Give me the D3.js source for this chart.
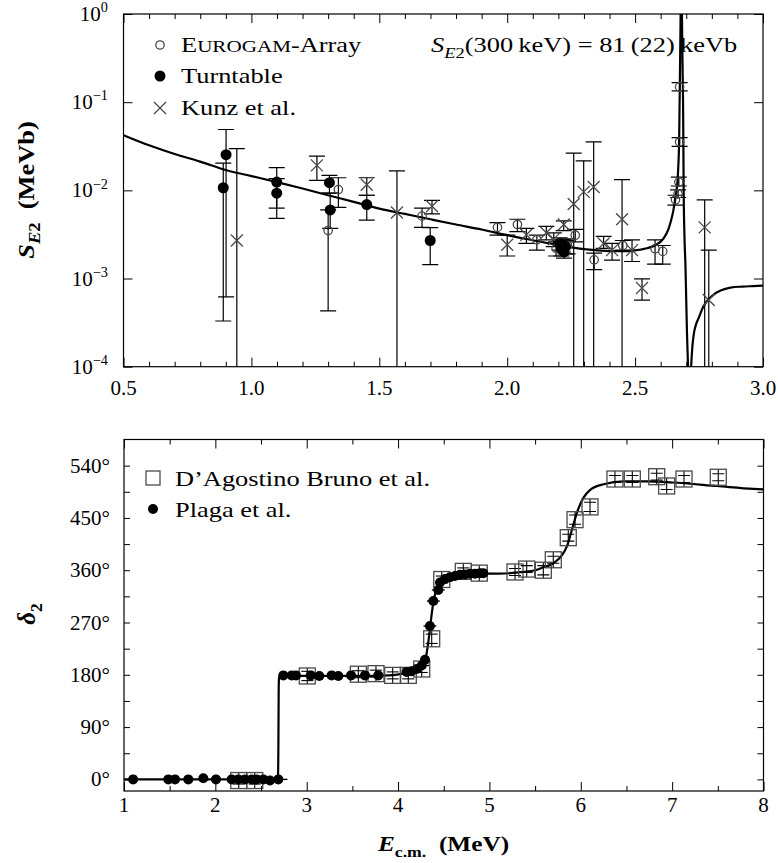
<!DOCTYPE html>
<html>
<head>
<meta charset="utf-8">
<script src="https://cdn.jsdelivr.net/npm/d3@7"></script>
<style>
  body { margin: 0; background: #fff; }
  svg text { font-family: "Liberation Serif", "Times New Roman", serif; fill: #000; }
</style>
</head>
<body>
<svg id="fig" width="778" height="863"></svg>
<script>
// ---------- upper panel: astrophysical S-factor S_E2 (MeV b) ----------
// rows: [E_cm (MeV), S, lower, upper]
const eurogam = [
  [1.300, 0.0035, 4.3e-4, 0.0060],
  [1.340, 0.0102, 0.0064, 0.0139],
  [1.667, 0.0051, 0.0038, 0.0063],
  [1.962, 0.0038, 0.0031, 0.0043],
  [2.040, 0.0041, 0.0034, 0.0047],
  [2.116, 0.00275, 0.0021, 0.0031],
  [2.191, 0.0022, 0.0018, 0.0026],
  [2.236, 0.00237, 0.0019, 0.0028],
  [2.266, 0.0031, 0.0026, 0.0036],
  [2.340, 0.00163, 0.00126, 0.00194],
  [2.452, 0.00237, 0.0021, 0.0027],
  [2.578, 0.00217, 0.00146, 0.00275],
  [2.608, 0.00203, 0.00146, 0.00237],
  [2.658, 0.0078, 0.0068, 0.0088],
  [2.668, 0.0091, 0.0083, 0.0101],
  [2.671, 0.0124, 0.0112, 0.0141],
  [2.674, 0.0354, 0.0316, 0.0397],
  [2.674, 0.149, 0.134, 0.167]
];
const turntable = [
  [0.890, 0.0107, 3.3e-4, 0.0204],
  [0.901, 0.0254, 6.2e-4, 0.049],
  [1.099, 0.0124, 0.0063, 0.0181],
  [1.099, 0.0093, 0.0048, 0.0136],
  [1.305, 0.0122, 0.0093, 0.0148],
  [1.308, 0.0060, 0.0037, 0.0093],
  [1.451, 0.0069, 0.0046, 0.0088],
  [1.699, 0.0027, 0.00144, 0.00377],
  [2.205, 0.0025, 0.0021, 0.0029],
  [2.212, 0.0022, 0.0018, 0.0026],
  [2.218, 0.0024, 0.0020, 0.0028],
  [2.222, 0.0020, 0.0017, 0.0024],
  [2.228, 0.0023, 0.0019, 0.0027]
];
const kunz = [
  [0.943, 0.0027, 1e-5, 0.0297],
  [1.256, 0.0192, 0.0130, 0.0245],
  [1.451, 0.0116, 0.0088, 0.0139],
  [1.569, 0.0056, 1e-5, 0.0166],
  [1.706, 0.0066, 0.0054, 0.0077],
  [2.000, 0.00242, 0.0018, 0.0031],
  [2.075, 0.00314, 0.0025, 0.0037],
  [2.153, 0.0033, 0.00275, 0.0039],
  [2.182, 0.0028, 0.0023, 0.0033],
  [2.221, 0.0041, 0.0035, 0.0045],
  [2.260, 0.0070, 1e-5, 0.0265],
  [2.299, 0.0096, 1e-5, 0.0216],
  [2.338, 0.0109, 1e-5, 0.0354],
  [2.377, 0.0025, 0.0022, 0.0030],
  [2.410, 0.0021, 0.00162, 0.0025],
  [2.449, 0.0047, 1e-5, 0.0132],
  [2.488, 0.0021, 0.00156, 0.00275],
  [2.527, 7.8e-4, 5.7e-4, 9.9e-4],
  [2.772, 0.0038, 1e-5, 0.0078],
  [2.788, 5.7e-4, 1e-5, 0.0021]
];
// R-matrix fit of S_E2
const fitSE2 = [
  [0.50, 0.0422], [0.60, 0.0324], [0.70, 0.0258], [0.80, 0.0212], [0.90, 0.0170],
  [1.00, 0.0145], [1.10, 0.0124], [1.20, 0.0105], [1.30, 0.0088], [1.40, 0.0074],
  [1.50, 0.0062], [1.60, 0.0054], [1.70, 0.0047], [1.80, 0.0041], [1.90, 0.0036],
  [2.00, 0.0031], [2.10, 0.00272], [2.20, 0.00240], [2.30, 0.00216], [2.40, 0.00205],
  [2.45, 0.00204], [2.50, 0.00209], [2.55, 0.00222], [2.58, 0.00240], [2.61, 0.00282],
  [2.63, 0.0036], [2.64, 0.0045], [2.650, 0.0060], [2.656, 0.0078], [2.662, 0.0100],
  [2.666, 0.0130], [2.669, 0.019], [2.672, 0.035], [2.674, 0.10], [2.676, 0.30],
  [2.678, 1.0], [2.680, 2.0], [2.683, 1.0], [2.686, 0.2], [2.6875, 0.1],
  [2.690, 0.0091], [2.693, 0.0030], [2.697, 0.00135], [2.700, 5.5e-4], [2.703, 2.3e-4],
  [2.707, 1.0e-4], [2.712, 2e-5], [2.716, 6e-5], [2.719, 1.0e-4], [2.724, 1.7e-4],
  [2.729, 2.3e-4], [2.738, 3.0e-4], [2.749, 3.6e-4], [2.765, 4.7e-4], [2.782, 5.6e-4],
  [2.805, 6.5e-4], [2.834, 7.3e-4], [2.873, 7.9e-4], [2.92, 8.1e-4], [2.96, 8.2e-4],
  [3.00, 8.3e-4]
];
const topMajorE = [0.5, 1.0, 1.5, 2.0, 2.5, 3.0];
const topMajorLabels = ["0.5", "1.0", "1.5", "2.0", "2.5", "3.0"];
const topMinorE = [0.6, 0.7, 0.8, 0.9, 1.1, 1.2, 1.3, 1.4, 1.6, 1.7, 1.8, 1.9,
                   2.1, 2.2, 2.3, 2.4, 2.6, 2.7, 2.8, 2.9];
const topDecades = [1e-4, 1e-3, 1e-2, 1e-1, 1];
const topDecadeExp = ["\u22124", "\u22123", "\u22122", "\u22121", "0"];

// ---------- lower panel: E2 phase shift delta_2 ----------
// rows: [E_cm (MeV), delta (deg), delta error (deg)]
const dagostino = [
  [2.256, -2, 6], [2.431, -2, 6], [3.006, 178, 8], [3.565, 181, 6], [3.758, 182, 6],
  [3.941, 179, 6], [4.112, 179, 6], [4.259, 190, 6], [4.368, 242, 8], [4.478, 344, 6],
  [4.714, 358, 6], [4.889, 355, 6], [5.280, 357, 6], [5.408, 362, 6], [5.590, 360, 8],
  [5.699, 378, 6], [5.863, 416, 6], [5.937, 447, 8], [6.101, 469, 8], [6.374, 517, 6],
  [6.564, 517, 6], [6.831, 521, 6], [6.940, 505, 6], [7.130, 517, 6], [7.505, 520, 6]
];
// rows: [E_cm (MeV), delta (deg), energy error (MeV)]
const plaga = [
  [1.100, 0, 0.03], [1.485, 0, 0.03], [1.558, 0, 0.03], [1.704, 0, 0.03], [1.868, 2, 0.03],
  [2.007, 0, 0.03], [2.179, 0, 0.03], [2.251, 0, 0.03], [2.324, 0, 0.03], [2.398, 0, 0.03],
  [2.452, 0, 0.03], [2.525, 0, 0.03], [2.598, -2, 0.03], [2.689, 0, 0.10],
  [2.744, 179, 0.03], [2.836, 179, 0.03], [2.883, 179, 0.03], [3.044, 179, 0.03],
  [3.138, 178, 0.03], [3.273, 179, 0.03], [3.346, 178, 0.03], [3.485, 179, 0.03],
  [3.638, 179, 0.03], [3.783, 179, 0.03], [4.094, 185, 0.03], [4.149, 186, 0.03],
  [4.204, 190, 0.05], [4.259, 196, 0.08], [4.295, 206, 0.05], [4.349, 264, 0.07],
  [4.386, 307, 0.07], [4.440, 326, 0.07], [4.459, 339, 0.05], [4.514, 345, 0.04],
  [4.568, 348, 0.03], [4.623, 350, 0.03], [4.678, 352, 0.03], [4.733, 352.6, 0.03],
  [4.787, 354, 0.03], [4.842, 354, 0.03], [4.897, 355, 0.03], [4.933, 355, 0.03]
];
const fitDelta = [
  [1.00, 0], [2.60, 0], [2.675, 0], [2.685, 3], [2.690, 60], [2.693, 150], [2.697, 175],
  [2.705, 178], [3.00, 178], [3.50, 178], [3.90, 179], [4.05, 182], [4.15, 186],
  [4.22, 192], [4.27, 200], [4.31, 215], [4.33, 235], [4.35, 260], [4.37, 287],
  [4.39, 308], [4.42, 326], [4.46, 337], [4.52, 344], [4.60, 348], [4.70, 351],
  [4.90, 354], [5.10, 354], [5.37, 357], [5.50, 360], [5.59, 365], [5.70, 372],
  [5.79, 385], [5.85, 402], [5.90, 428], [5.96, 460], [6.03, 485], [6.10, 498],
  [6.25, 508], [6.47, 513], [6.72, 513], [7.00, 511], [7.49, 505], [7.89, 500], [8.00, 499]
];
const botMajorE = [1, 2, 3, 4, 5, 6, 7, 8];
const botMajorLabels = ["1", "2", "3", "4", "5", "6", "7", "8"];
const botMinorE = [1.5, 2.5, 3.5, 4.5, 5.5, 6.5, 7.5];
const degMajor = [0, 90, 180, 270, 360, 450, 540];
const degMajorLabels = ["0", "90", "180", "270", "360", "450", "540"];
const degMinor = [45, 135, 225, 315, 405, 495];

// ---------- drawing ----------
const svg = d3.select("#fig");
const INK = "#000", GREY = "#4a4a4a";

// text with italic/bold/sub/sup runs; sx stretches along the baseline
function rich(parent, x, y, parts, opt) {
  const g = parent.append("g")
    .attr("transform", `translate(${x},${y}) rotate(${opt.rotate || 0}) scale(${opt.sx || 1},1)`);
  const t = g.append("text").attr("text-anchor", opt.anchor || "start")
    .attr("font-size", opt.size);
  if (opt.bold) t.attr("font-weight", "bold");
  let shift = 0;
  parts.forEach(p => {
    const s = t.append("tspan").text(p.t);
    const target = p.sub ? opt.size * 0.28 : p.sup ? -opt.size * 0.42 : 0;
    if (target - shift !== 0) s.attr("dy", target - shift);
    shift = target;
    if (p.sub || p.sup) s.attr("font-size", opt.size * (p.scale || 0.7));
    else if (p.scale) s.attr("font-size", opt.size * p.scale);
    if (p.i) s.attr("font-style", "italic");
  });
  return g;
}

function frame(x, y, id) {
  const [x0, x1] = x.range(), [y0, y1] = y.range();
  svg.append("clipPath").attr("id", id).append("rect")
    .attr("x", x0).attr("y", y1).attr("width", x1 - x0).attr("height", y0 - y1);
  return svg.append("g").attr("clip-path", `url(#${id})`);
}

function ticks(x, y, xMajor, xMinor, yMajor, yMinor, majLen, minLen, yLen) {
  const [x0, x1] = x.range(), [y0, y1] = y.range();
  const g = svg.append("g");
  const put = (axis, tx, ty) => {
    const a = g.append("g").attr("transform", `translate(${tx},${ty})`).call(axis);
    a.select(".domain").remove();
    a.selectAll("line").attr("stroke", INK).attr("stroke-width", 1);
  };
  put(d3.axisBottom(x).tickValues(xMajor).tickSize(-majLen).tickFormat(""), 0, y0);
  put(d3.axisBottom(x).tickValues(xMinor).tickSize(-minLen).tickFormat(""), 0, y0);
  put(d3.axisTop(x).tickValues(xMajor).tickSize(-majLen).tickFormat(""), 0, y1);
  put(d3.axisTop(x).tickValues(xMinor).tickSize(-minLen).tickFormat(""), 0, y1);
  put(d3.axisLeft(y).tickValues(yMajor).tickSize(-yLen).tickFormat(""), x0, 0);
  put(d3.axisRight(y).tickValues(yMajor).tickSize(-yLen).tickFormat(""), x1, 0);
  if (yMinor) {
    put(d3.axisLeft(y).tickValues(yMinor).tickSize(-yLen).tickFormat(""), x0, 0);
    put(d3.axisRight(y).tickValues(yMinor).tickSize(-yLen).tickFormat(""), x1, 0);
  }
  svg.append("rect").attr("x", x0).attr("y", y1).attr("width", x1 - x0).attr("height", y0 - y1)
    .attr("fill", "none").attr("stroke", INK).attr("stroke-width", 1.2);
}

const crossPath = "M-6,-6L6,6M-6,6L6,-6";

// ===== upper panel =====
const xTop = d3.scaleLinear().domain([0.5, 3.0]).range([123.5, 763]);
const yTop = d3.scaleLog().domain([1e-4, 1]).range([366.7, 14]);
const gTop = frame(xTop, yTop, "clipTop");

function vBars(g, x, y, rows, cap) {
  const floor = y.domain()[0];
  rows.forEach(([e, v, lo, hi]) => {
    const px = x(e);
    g.append("line").attr("x1", px).attr("x2", px).attr("y1", y(Math.max(lo, 1e-6))).attr("y2", y(hi));
    g.append("line").attr("x1", px - cap).attr("x2", px + cap).attr("y1", y(hi)).attr("y2", y(hi));
    if (lo > floor) g.append("line").attr("x1", px - cap).attr("x2", px + cap).attr("y1", y(lo)).attr("y2", y(lo));
  });
}
const barsTop = gTop.append("g").attr("stroke", INK).attr("stroke-width", 1.2);
vBars(barsTop, xTop, yTop, eurogam, 8);
vBars(barsTop, xTop, yTop, turntable, 8);
vBars(barsTop, xTop, yTop, kunz, 8);

gTop.append("path").datum(fitSE2)
  .attr("d", d3.line().x(d => xTop(d[0])).y(d => yTop(d[1])).curve(d3.curveMonotoneX))
  .attr("fill", "none").attr("stroke", INK).attr("stroke-width", 2.2);

gTop.append("g").selectAll("circle").data(eurogam).join("circle")
  .attr("cx", d => xTop(d[0])).attr("cy", d => yTop(d[1])).attr("r", 4.2)
  .attr("fill", "none").attr("stroke", GREY).attr("stroke-width", 1.3);
gTop.append("g").selectAll("path").data(kunz).join("path")
  .attr("transform", d => `translate(${xTop(d[0])},${yTop(d[1])})`).attr("d", crossPath)
  .attr("fill", "none").attr("stroke", GREY).attr("stroke-width", 1.3);
gTop.append("g").selectAll("circle").data(turntable).join("circle")
  .attr("cx", d => xTop(d[0])).attr("cy", d => yTop(d[1])).attr("r", 5.5).attr("fill", INK);

ticks(xTop, yTop, topMajorE, topMinorE, topDecades, null, 9, 5, 9);

topMajorE.forEach((e, i) => {
  svg.append("text").attr("x", xTop(e)).attr("y", 395).attr("text-anchor", "middle")
    .attr("font-size", 21).text(topMajorLabels[i]);
});
topDecades.forEach((v, i) => {
  rich(svg, 108, yTop(v) + 7, [{ t: "10" }, { t: topDecadeExp[i], sup: true, scale: 0.68 }],
    { size: 21, anchor: "end" });
});

// legend and annotation
const lgTop = svg.append("g");
lgTop.append("circle").attr("cx", 160).attr("cy", 45).attr("r", 4.2)
  .attr("fill", "none").attr("stroke", GREY).attr("stroke-width", 1.3);
lgTop.append("circle").attr("cx", 160).attr("cy", 76).attr("r", 5.5).attr("fill", INK);
lgTop.append("path").attr("transform", "translate(160,108)").attr("d", crossPath)
  .attr("fill", "none").attr("stroke", GREY).attr("stroke-width", 1.3);
rich(lgTop, 181, 52, [{ t: "E" }, { t: "UROGAM", scale: 0.8 }, { t: "-Array" }], { size: 22, sx: 1.2 });
rich(lgTop, 181, 83, [{ t: "Turntable" }], { size: 22, sx: 1.2 });
rich(lgTop, 181, 115, [{ t: "Kunz et al." }], { size: 22, sx: 1.2 });
rich(svg, 431, 52, [
  { t: "S", i: true }, { t: "E", i: true, sub: true }, { t: "2", sub: true },
  { t: "(300\u2009keV) = 81\u2009(22)\u2009keVb" }
], { size: 22, sx: 1.2 });

// y title
rich(svg, 34, 190, [
  { t: "S", i: true }, { t: "E", i: true, sub: true }, { t: "2", sub: true }, { t: "\u2002(MeVb)" }
], { size: 23, sx: 1.15, rotate: -90, anchor: "middle", bold: true });

// ===== lower panel =====
const xBot = d3.scaleLinear().domain([1, 8]).range([124, 763.5]);
const yBot = d3.scaleLinear().domain([-20, 585]).range([791, 439.5]);
const gBot = frame(xBot, yBot, "clipBot");

gBot.append("path").datum(fitDelta)
  .attr("d", d3.line().x(d => xBot(d[0])).y(d => yBot(d[1])).curve(d3.curveMonotoneX))
  .attr("fill", "none").attr("stroke", INK).attr("stroke-width", 2.2);

// squares with their error bars
const sq = 8;
const gSq = gBot.append("g");
dagostino.forEach(([e, d, err]) => {
  const px = xBot(e), py = yBot(d);
  const b = gSq.append("g").attr("stroke", INK).attr("stroke-width", 1.1);
  b.append("line").attr("x1", px).attr("x2", px).attr("y1", py - sq).attr("y2", py + sq);
  b.append("line").attr("x1", px - 6).attr("x2", px + 6).attr("y1", yBot(d + err)).attr("y2", yBot(d + err));
  b.append("line").attr("x1", px - 6).attr("x2", px + 6).attr("y1", yBot(d - err)).attr("y2", yBot(d - err));
  gSq.append("rect").attr("x", px - sq).attr("y", py - sq).attr("width", 2 * sq).attr("height", 2 * sq)
    .attr("fill", "none").attr("stroke", GREY).attr("stroke-width", 1.3);
});

// filled points with energy bars
const gPl = gBot.append("g");
gPl.append("g").attr("stroke", INK).attr("stroke-width", 1.4)
  .selectAll("line").data(plaga).join("line")
  .attr("x1", d => xBot(d[0] - d[2])).attr("x2", d => xBot(d[0] + d[2]))
  .attr("y1", d => yBot(d[1])).attr("y2", d => yBot(d[1]));
gPl.append("g").selectAll("circle").data(plaga).join("circle")
  .attr("cx", d => xBot(d[0])).attr("cy", d => yBot(d[1])).attr("r", 5).attr("fill", INK);

ticks(xBot, yBot, botMajorE, botMinorE, degMajor, degMinor, 9, 5, 6);

botMajorE.forEach((e, i) => {
  svg.append("text").attr("x", xBot(e)).attr("y", 812).attr("text-anchor", "middle")
    .attr("font-size", 21).text(botMajorLabels[i]);
});
degMajor.forEach((v, i) => {
  svg.append("text").attr("x", 110).attr("y", yBot(v) + 7).attr("text-anchor", "end")
    .attr("font-size", 21).text(degMajorLabels[i] + "\u00b0");
});

const lgBot = svg.append("g");
lgBot.append("rect").attr("x", 146).attr("y", 471).attr("width", 14).attr("height", 14)
  .attr("fill", "none").attr("stroke", GREY).attr("stroke-width", 1.3);
lgBot.append("circle").attr("cx", 153).attr("cy", 509).attr("r", 5).attr("fill", INK);
rich(lgBot, 175, 486, [{ t: "D\u2019Agostino Bruno et al." }], { size: 22, sx: 1.2 });
rich(lgBot, 175, 517, [{ t: "Plaga et al." }], { size: 22, sx: 1.2 });

rich(svg, 35, 614, [{ t: "\u03b4", i: true }, { t: "2", sub: true }],
  { size: 25, rotate: -90, anchor: "middle", bold: true });
rich(svg, 443.5, 851, [
  { t: "E", i: true }, { t: "c.m.", sub: true }, { t: "\u2002(MeV)" }
], { size: 22, sx: 1.15, anchor: "middle", bold: true });
</script>
</body>
</html>
